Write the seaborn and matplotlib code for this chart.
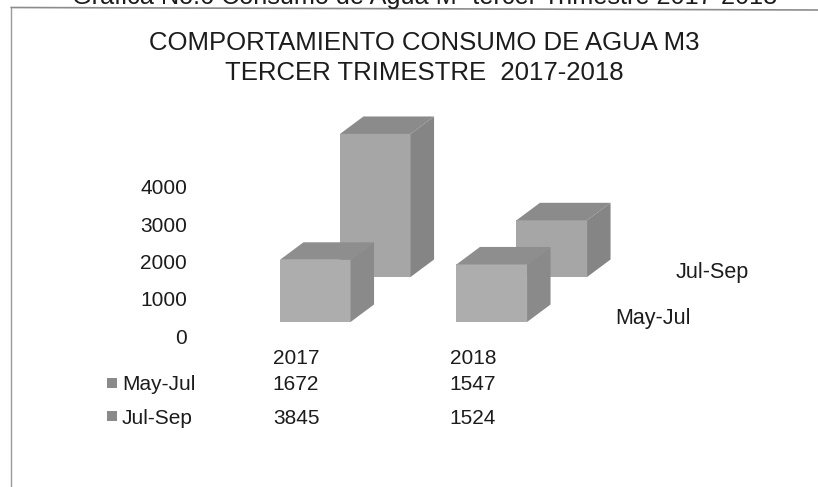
import matplotlib
matplotlib.use('Agg')
import matplotlib.pyplot as plt
import pandas as pd
import seaborn as sns
from matplotlib.patches import Polygon

years = ['2017', '2018']
may_jul = [1672, 1547]
jul_sep = [3845, 1524]
y_ticks = [0, 1000, 2000, 3000, 4000]

W, H = 818, 487
PX_PER_UNIT = 0.0372
SPACING = 176.5
Y_MAX = 4200


def px_axes(fig, left, bottom, width, height, **kw):
    # bottom is measured from the top of the image, like in the reference
    return fig.add_axes([left / W, 1 - bottom / H, width / W, height / H], **kw)


def draw_boxes(ax, values, front, top, side):
    df = pd.DataFrame({'year': years, 'value': values})
    sns.barplot(data=df, x='year', y='value', color=front, saturation=1, width=0.4,
                linewidth=0, ax=ax)
    ax.set_xlim(-0.5, 1.5)
    ax.set_ylim(0, Y_MAX)
    ax.axis('off')
    # fake 3d depth, same offset for every box
    dx = 23.5 / SPACING
    dy = 17.5 / PX_PER_UNIT
    for p in ax.patches[:]:
        x0, x1 = p.get_x(), p.get_x() + p.get_width()
        h = p.get_height()
        ax.add_patch(Polygon([(x0, h), (x1, h), (x1 + dx, h + dy), (x0 + dx, h + dy)],
                             facecolor=top, edgecolor='none', clip_on=False))
        ax.add_patch(Polygon([(x1, 0), (x1 + dx, dy), (x1 + dx, h + dy), (x1, h)],
                             facecolor=side, edgecolor='none', clip_on=False))


sns.set_theme(style='white')
plt.rcParams['font.family'] = ['Liberation Sans', 'DejaVu Sans']
TXT = '#1c1c1c'

fig = plt.figure(figsize=(W / 100, H / 100), dpi=100, facecolor='white')

# y axis sits lower than the boxes, as in the picture
wall = px_axes(fig, 190, 336, 400, 149)
wall.set_ylim(0, 4000)
wall.set_yticks(y_ticks)
wall.set_xticks([])
wall.tick_params(axis='y', length=0, pad=2, labelsize=15, labelcolor=TXT)
sns.despine(ax=wall, left=True, bottom=True)
wall.patch.set_alpha(0)

ax_h = Y_MAX * PX_PER_UNIT
back = px_axes(fig, 287, 277, 353, ax_h)
draw_boxes(back, jul_sep, '#a6a6a6', '#8b8b8b', '#858585')
front = px_axes(fig, 227, 322, 353, ax_h)
draw_boxes(front, may_jul, '#adadad', '#8e8e8e', '#8a8a8a')

# chart frame, the scan is a little crooked
fig.add_artist(plt.Line2D([11 / W, 11 / W], [1 - 8 / H, 0], color='#9a9a9a', lw=1))
fig.add_artist(plt.Line2D([11 / W, 1], [1 - 7.5 / H, 1 - 10 / H], color='#8c8c8c', lw=1.2))


def put(x, y, s, size=15, ha='center', **kw):
    fig.text(x / W, 1 - y / H, s, fontsize=size, ha=ha, va='center', color=TXT, **kw)


put(425, -3, 'Gráfica No.6 Consumo de Agua M³ tercer Trimestre 2017-2018', size=18.2)
put(424, 43.5, 'COMPORTAMIENTO CONSUMO DE AGUA M3', size=18.5)
put(424, 72.5, 'TERCER TRIMESTRE  2017-2018', size=18.5)

# depth axis names
put(676, 272.5, 'Jul-Sep', size=15.5, ha='left')
put(615, 318.5, 'May-Jul', size=15.5, ha='left')

# data table
for i, yr in enumerate(years):
    cx = 296 + i * 177
    put(cx, 358, yr)
    put(cx, 385, str(may_jul[i]))
    put(cx, 418, str(jul_sep[i]))
for y, name in [(385, 'May-Jul'), (418, 'Jul-Sep')]:
    put(122, y, name, ha='left')
    fig.patches.append(plt.Rectangle((107 / W, 1 - (y + 3) / H), 10 / W, 10 / H,
                                     transform=fig.transFigure, facecolor='#8a8a8a',
                                     edgecolor='none', figure=fig))

fig.savefig('out.png', dpi=100)
